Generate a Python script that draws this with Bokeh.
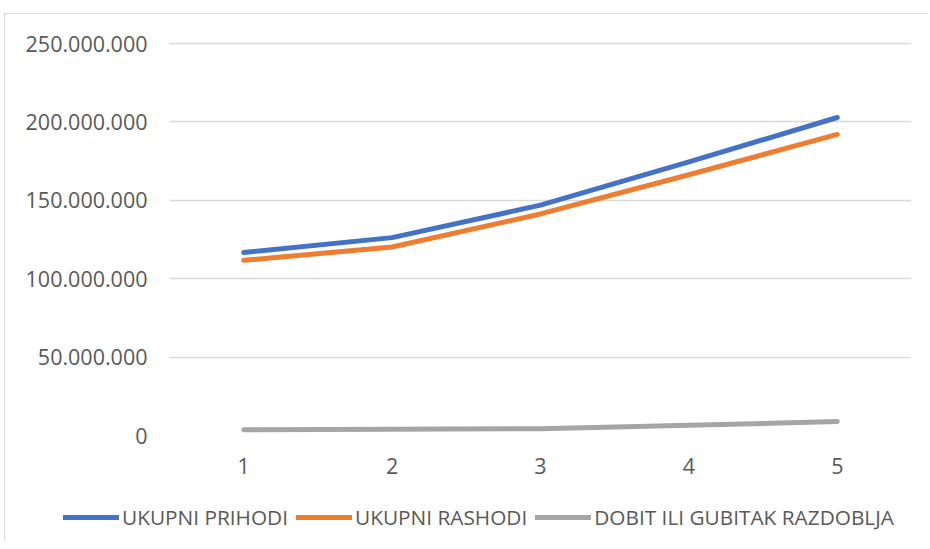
from bokeh.plotting import figure
from bokeh.models import (ColumnDataSource, FactorRange, Range1d, FixedTicker,
                          Legend, LegendItem)
from bokeh.embed import file_html
from bokeh.resources import INLINE

# ---- data ----
categories = ["1", "2", "3", "4", "5"]
ukupni_prihodi = [116.7e6, 126.2e6, 146.9e6, 174.5e6, 202.8e6]
ukupni_rashodi = [111.7e6, 120.2e6, 141.3e6, 166.3e6, 192.0e6]
dobit_gubitak = [3.7e6, 4.0e6, 4.3e6, 6.5e6, 8.9e6]
series_names = ["UKUPNI PRIHODI", "UKUPNI RASHODI", "DOBIT ILI GUBITAK RAZDOBLJA"]
y_ticks = [0, 50e6, 100e6, 150e6, 200e6, 250e6]
y_tick_labels = ["0", "50.000.000", "100.000.000", "150.000.000", "200.000.000", "250.000.000"]

colors = ["#4472C4", "#ED7D31", "#A5A5A5"]
FONT = "Open Sans"
TXT = "#595959"
EDGE = "1px solid #D9D9D9"

src = ColumnDataSource(dict(x=categories, a=ukupni_prihodi, b=ukupni_rashodi, c=dobit_gubitak))

y_top = 250e6 * (1 + 1 / 392)
p = figure(width=924, height=481, x_range=FactorRange(*categories, range_padding=0),
           y_range=Range1d(0, y_top), output_backend="svg", toolbar_location=None,
           min_border_left=164, min_border_right=18, min_border_top=28, min_border_bottom=60)
p.margin = (13, 0, 0, 4)
p.styles = {"border-top": EDGE, "border-left": EDGE}
p.outline_line_color = None
p.background_fill_color = "white"
p.border_fill_color = "white"

for col, c in zip(["a", "b", "c"], colors):
    p.line("x", col, source=src, line_color=c, line_width=5,
           line_cap="round", line_join="round")

# axes
p.yaxis.ticker = FixedTicker(ticks=y_ticks)
p.yaxis.major_label_overrides = {t: l for t, l in zip(y_ticks, y_tick_labels)}
for ax in (p.xaxis[0], p.yaxis[0]):
    ax.axis_line_color = None
    ax.major_tick_line_color = None
    ax.minor_tick_line_color = None
    ax.major_label_text_font = FONT
    ax.major_label_text_font_size = "21.5px"
    ax.major_label_text_color = TXT
p.yaxis.major_label_standoff = 16
p.xaxis.major_label_standoff = 16

p.xgrid.grid_line_color = None
p.ygrid.grid_line_color = "#D9D9D9"
p.ygrid.grid_line_width = 1.5

# legend strip: a second canvas so the legend is not clipped to the data frame.
# Its proxy lines reuse the real data, scrolled out of its (empty) visible range.
lg = figure(width=924, height=46, x_range=FactorRange(*categories), y_range=Range1d(-2, -1),
            output_backend="svg", toolbar_location=None,
            x_axis_type=None, y_axis_type=None, min_border=0)
lg.margin = (0, 0, 0, 4)
lg.styles = {"border-left": EDGE}
lg.outline_line_color = None
lg.grid.grid_line_color = None
lg_rs = [lg.line("x", col, source=src, line_color=c, line_width=5, line_cap="round")
         for col, c in zip(["a", "b", "c"], colors)]
legend = Legend(items=[LegendItem(label=n, renderers=[r]) for n, r in zip(series_names, lg_rs)],
                orientation="horizontal", location=(58, 9),
                glyph_width=56, glyph_height=20, label_height=20, label_standoff=3,
                spacing=8, padding=0, margin=0, border_line_color=None,
                background_fill_alpha=0,
                label_text_font=FONT, label_text_font_size="20.8px", label_text_color=TXT)
lg.add_layout(legend, "center")

open("out.html", "w").write(file_html([p, lg], INLINE))
